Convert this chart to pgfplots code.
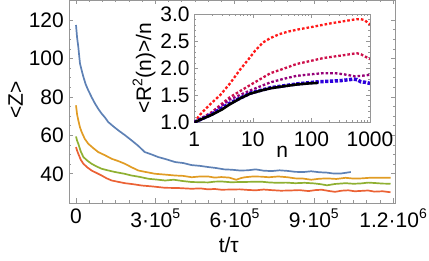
\documentclass[border=0pt]{standalone}
\usepackage{pgfplots}
\pgfplotsset{compat=1.18}
\usepackage{fontspec}
\setmainfont{Liberation Sans}
\newcommand\lbl{\fontsize{21}{24}\selectfont}
\newcommand\supx[1]{\raisebox{0.42em}{\fontsize{14}{14}\selectfont #1}}
\definecolor{mblue}{rgb}{0.368417,0.506779,0.709798}
\definecolor{morange}{rgb}{0.880722,0.611041,0.142051}
\definecolor{mgreen}{rgb}{0.560181,0.691569,0.194885}
\definecolor{mred}{rgb}{0.922526,0.385626,0.209179}
\definecolor{iRed}{RGB}{255,25,25}
\definecolor{iCrim}{RGB}{205,15,75}
\definecolor{iPurp}{RGB}{150,0,120}
\definecolor{iBlue}{RGB}{45,0,220}
\definecolor{framec}{RGB}{150,150,150}
\begin{document}
\begin{tikzpicture}
\path[use as bounding box] (0,0) rectangle (429pt,261pt);
\begin{axis}[
  at={(69pt,58pt)}, anchor=south west,
  width=326pt, height=203pt, scale only axis,
  xmin=-0.265, xmax=12.07, ymin=24.8, ymax=130.4,
  axis line style={framec, line width=0.8pt},
  every tick/.style={framec, line width=0.6pt},
  major tick length=4.5pt, minor tick length=2.5pt,
  tick align=inside,
  xtick={0,3,6,9,12},
  xticklabels={0,{3·10\supx{5}},{6·10\supx{5}},{9·10\supx{5}},{1.2·10\supx{6}}},
  minor x tick num=5,
  ytick={40,60,80,100,120},
  yticklabels={40,60,80,100,120},
  minor y tick num=3,
  xticklabel style={font=\lbl, inner sep=0pt, yshift=-6pt},
  yticklabel style={font=\lbl, inner sep=0pt, xshift=-5pt},
  xlabel={t/τ}, ylabel={<Z>},
  xlabel style={font=\lbl, at={(axis description cs:0.49,-0.246)}, anchor=base},
  ylabel style={font=\lbl, at={(axis description cs:-0.164,0.507)}, anchor=center},
  every axis plot/.append style={line width=1.7pt, line join=round},
]
\addplot[mblue] coordinates {
(0,117.4)(0.04,111)(0.087,106)(0.15,97.4)(0.22,93.5)(0.28,90.4)(0.37,86.4)(0.465,83.4)(0.6,79.6)(0.72,76.5)(0.85,73.6)(0.97,71.3)(1.1,69.2)(1.22,66.9)(1.4,64.8)(1.6,62.6)(1.85,60.1)(2.1,57.4)(2.35,54.6)(2.6,51.3)(2.85,50.1)(3.11,48.7)(3.4,47.6)(3.75,46.1)(4.05,45.6)(4.38,44.5)(4.7,44.1)(5.0,43.5)(5.3,43.0)(5.6,42.3)(5.9,42.1)(6.2,41.7)(6.5,41.8)(6.8,42.3)(7.1,41.6)(7.4,41.4)(7.7,41.8)(8.0,41.5)(8.3,41.0)(8.6,40.9)(8.9,41.3)(9.2,40.8)(9.5,40.6)(9.7,40.2)(10.0,40.1)(10.2,40.5)(10.4,40.9)
};
\addplot[morange] coordinates {
(0,75.6)(0.04,71)(0.087,67.8)(0.15,64.2)(0.215,61.7)(0.33,58.2)(0.465,55.6)(0.65,53.4)(0.84,51.3)(1.1,49.6)(1.35,47.8)(1.6,46.6)(1.85,45.2)(2.1,43.4)(2.36,41.7)(2.65,40.9)(2.99,40.0)(3.35,39.6)(3.75,39.1)(4.05,38.9)(4.38,38.2)(4.7,38.6)(5.0,38.6)(5.25,38.0)(5.5,38.3)(5.8,38.0)(6.06,36.9)(6.25,37.8)(6.4,38.2)(6.7,38.6)(7.0,38.5)(7.3,38.2)(7.65,38.6)(8.0,38.2)(8.3,37.6)(8.6,37.5)(8.9,36.9)(9.2,37.4)(9.5,37.6)(9.85,37.3)(10.2,37.9)(10.5,37.5)(10.8,37.6)(11.1,37.9)(11.5,37.9)(11.9,37.9)
};
\addplot[mgreen] coordinates {
(0,59.4)(0.04,57.3)(0.087,55.6)(0.18,51.6)(0.28,48.7)(0.43,46.8)(0.59,45.2)(0.78,43.8)(0.97,42.6)(1.2,41.8)(1.48,40.9)(1.8,40.1)(2.1,39.1)(2.4,38.4)(2.74,37.4)(3.05,37.0)(3.37,36.5)(3.7,36.9)(4.05,36.2)(4.38,35.7)(4.7,35.6)(5.0,35.5)(5.25,35.9)(5.5,36.0)(5.85,35.6)(6.2,35.7)(6.6,35.8)(7.0,35.9)(7.3,35.5)(7.6,35.3)(7.95,35.4)(8.3,35.1)(8.65,35.3)(9.0,35.0)(9.25,34.6)(9.5,34.0)(9.8,34.7)(10.2,35.1)(10.5,34.8)(10.8,35.0)(11.05,35.4)(11.3,35.2)(11.6,34.9)(11.9,34.8)
};
\addplot[mred] coordinates {
(0,53.9)(0.04,52.1)(0.087,50.4)(0.18,47.3)(0.28,45.2)(0.43,43.3)(0.59,41.7)(0.78,40.4)(0.97,39.1)(1.15,37.7)(1.35,36.5)(1.6,35.8)(1.85,35.1)(2.15,34.6)(2.48,33.9)(2.9,33.4)(3.37,32.7)(3.85,32.6)(4.38,32.2)(4.7,32.4)(5.0,31.9)(5.25,32.1)(5.5,31.7)(5.85,31.8)(6.2,31.9)(6.5,31.6)(6.8,31.4)(7.1,31.8)(7.4,31.5)(7.75,31.2)(8.1,31.3)(8.45,31.5)(8.8,31.0)(9.05,31.5)(9.3,31.7)(9.55,31.1)(9.8,30.6)(10.05,31.2)(10.3,31.4)(10.55,30.9)(10.8,31.1)(11.05,31.3)(11.3,30.7)(11.6,30.9)(11.9,30.4)
};
\end{axis}
\begin{axis}[
  at={(194.3pt,138.7pt)}, anchor=south west,
  width=175.7pt, height=108pt, scale only axis,
  xmode=log, xmin=1, xmax=1000, ymin=1, ymax=3,
  axis background/.style={fill=white},
  axis line style={framec, line width=0.8pt},
  every tick/.style={framec, line width=0.6pt},
  major tick length=4pt, minor tick length=2.2pt,
  tick align=inside,
  xtick={1,10,100,1000}, xticklabels={1,10,100,1000},
  ytick={1,1.5,2,2.5,3}, yticklabels={1.0,1.5,2.0,2.5,3.0},
  minor y tick num=4,
  xticklabel style={font=\lbl, inner sep=0pt, yshift=-9.5pt},
  yticklabel style={font=\lbl, inner sep=0pt, xshift=-4.5pt},
  xlabel={n}, ylabel={<R\supx{2}(n)>/n},
  xlabel style={font=\lbl, at={(axis description cs:0.5,-0.33)}, anchor=base},
  ylabel style={font=\lbl, at={(axis description cs:-0.286,0.5)}, anchor=center},
]
\addplot[iRed, line width=2.3pt, dash pattern=on 2.6pt off 2pt] coordinates {
(1,1.0)(1.25,1.14)(1.85,1.33)(2.75,1.50)(4.07,1.72)(6,1.97)(8.9,2.2)(11,2.33)(15,2.48)(20,2.56)(28,2.63)(40,2.68)(60,2.72)(107,2.77)(207,2.83)(398,2.88)(590,2.91)(700,2.91)(815,2.89)(900,2.85)(1000,2.81)
};
\addplot[iCrim, line width=2.3pt, dash pattern=on 2.6pt off 2pt] coordinates {
(1,1.0)(2,1.19)(4,1.46)(9,1.69)(20,1.91)(35,2.0)(56,2.08)(100,2.14)(160,2.19)(250,2.22)(398,2.25)(590,2.28)(700,2.26)(850,2.21)(1000,2.17)
};
\addplot[iPurp, line width=2.3pt, dash pattern=on 2.6pt off 2pt] coordinates {
(1,1.0)(2,1.17)(4,1.42)(9,1.59)(20,1.74)(35,1.81)(56,1.86)(100,1.89)(160,1.91)(250,1.91)(350,1.89)(450,1.87)(550,1.85)(700,1.86)(850,1.87)(1000,1.88)
};
\addplot[iBlue, line width=3.5pt, dash pattern=on 3.2pt off 1.6pt] coordinates {
(1,1.0)(2,1.15)(4,1.35)(9,1.54)(20,1.64)(56,1.71)(130,1.75)(200,1.76)(307,1.77)(450,1.79)(520,1.80)(600,1.79)(700,1.75)(850,1.74)(1000,1.72)
};
\addplot[black, line width=2.6pt] coordinates {
(1,1.0)(2,1.14)(3,1.24)(4,1.33)(6,1.44)(9,1.53)(14,1.59)(20,1.63)(35,1.67)(56,1.70)(90,1.72)(130,1.73)
};
\end{axis}
\end{tikzpicture}
\end{document}
